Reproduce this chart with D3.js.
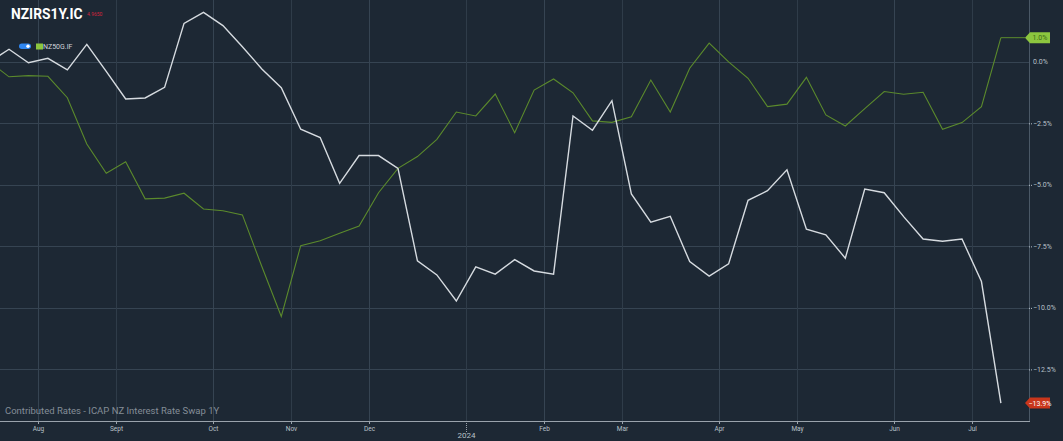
<!DOCTYPE html>
<html>
<head>
<meta charset="utf-8">
<title>NZIRS1Y.IC vs NZ50G.IF</title>
<style>
  html, body { margin: 0; padding: 0; background: #1d2834; overflow: hidden; }
  svg { display: block; font-family: Roboto, "Noto Sans", sans-serif; }
</style>
</head>
<body>
<script src="https://cdn.jsdelivr.net/npm/d3@7/dist/d3.min.js"></script>
<script>

// weekly observations (Fridays), Jul 2023 - Jul 2024
var dates = [
  "2023-07-14","2023-07-21","2023-07-28","2023-08-04","2023-08-11","2023-08-18","2023-08-25",
  "2023-09-01","2023-09-08","2023-09-15","2023-09-22","2023-09-29","2023-10-06","2023-10-13",
  "2023-10-20","2023-10-27","2023-11-03","2023-11-10","2023-11-17","2023-11-24","2023-12-01",
  "2023-12-08","2023-12-15","2023-12-22","2023-12-29","2024-01-05","2024-01-12","2024-01-19",
  "2024-01-26","2024-02-02","2024-02-09","2024-02-16","2024-02-23","2024-03-01","2024-03-08",
  "2024-03-15","2024-03-22","2024-03-29","2024-04-05","2024-04-12","2024-04-19","2024-04-26",
  "2024-05-03","2024-05-10","2024-05-17","2024-05-24","2024-05-31","2024-06-07","2024-06-14",
  "2024-06-21","2024-06-28","2024-07-05","2024-07-12"
];

// % change since start
var swapValues = [
  0, 0.51, -0.04, 0.14, -0.33, 0.71, -0.39, -1.51, -1.47, -1.04,
  1.56, 2.01, 1.47, 0.61, -0.29, -1.05, -2.74, -3.08, -4.94, -3.81,
  -3.81, -4.33, -8.09, -8.66, -9.72, -8.33, -8.63, -8.04, -8.50, -8.63,
  -2.20, -2.78, -1.58, -5.37, -6.52, -6.28, -8.12, -8.71, -8.21, -5.63,
  -5.24, -4.39, -6.80, -7.03, -7.98, -5.17, -5.32, -6.29, -7.20, -7.29,
  -7.20, -8.93, -13.87
];

var indexValues = [
  0, -0.61, -0.56, -0.59, -1.46, -3.34, -4.53, -4.06, -5.57, -5.54,
  -5.34, -5.98, -6.05, -6.22, -8.32, -10.35, -7.47, -7.27, -6.97, -6.67,
  -5.32, -4.33, -3.85, -3.15, -2.04, -2.20, -1.31, -2.88, -1.15, -0.70,
  -1.26, -2.40, -2.46, -2.23, -0.74, -2.04, -0.26, 0.76, 0.00, -0.67,
  -1.82, -1.72, -0.63, -2.16, -2.61, -1.90, -1.21, -1.32, -1.24, -2.74,
  -2.47, -1.82, 0.98
];

var monthStarts = ["2023-08-01","2023-09-01","2023-10-01","2023-11-01","2023-12-01","2024-01-01",
                   "2024-02-01","2024-03-01","2024-04-01","2024-05-01","2024-06-01","2024-07-01"];
var monthLabels = ["Aug","Sept","Oct","Nov","Dec","2024","Feb","Mar","Apr","May","Jun","Jul"];

var yTicks = [0, -2.5, -5, -7.5, -10, -12.5];

var width = 1063, height = 441,
    bg = "#1d2834",
    gridColor = "#364452",
    swapColor = "#d6dbe0",
    indexColor = "#5b8a2c",
    axisRight = 1029,
    axisBottom = 421;

var parse = d3.timeParse("%Y-%m-%d");
var dateObjs = dates.map(parse);

var x = d3.scaleLinear().domain([0, dates.length - 1]).range([-10.45, 1000.9]);
var y = d3.scaleLinear().domain([0, -12.5]).range([61.8, 369.4]);

// month ticks sit half a step before the first point of the month
var monthPos = monthStarts.map(function(s) {
  var d = parse(s);
  var i = d3.bisectLeft(dateObjs, d);
  return x(i - 0.5);
});

var svg = d3.select("body").append("svg")
  .attr("width", width)
  .attr("height", height);

svg.append("rect").attr("width", width).attr("height", height).attr("fill", bg);

// horizontal grid
svg.append("g").selectAll("line").data(yTicks).enter().append("line")
  .attr("x1", 0).attr("x2", axisRight)
  .attr("y1", function(d) { return Math.round(y(d)) + 0.5; })
  .attr("y2", function(d) { return Math.round(y(d)) + 0.5; })
  .attr("stroke", gridColor).attr("stroke-width", 1);

// vertical grid
svg.append("g").selectAll("line").data(monthPos).enter().append("line")
  .attr("x1", function(d) { return Math.round(d) + 0.5; })
  .attr("x2", function(d) { return Math.round(d) + 0.5; })
  .attr("y1", 0).attr("y2", axisBottom)
  .attr("stroke", function(d, i) { return (i % 2 == 1) ? "#2f3c49" : gridColor; })
  .attr("stroke-width", 1);

// right axis line + bottom axis line
svg.append("line").attr("x1", axisRight + 0.5).attr("x2", axisRight + 0.5)
  .attr("y1", 0).attr("y2", axisBottom).attr("stroke", "#4a5866");
svg.append("line").attr("x1", 0).attr("x2", axisRight + 1)
  .attr("y1", axisBottom + 0.5).attr("y2", axisBottom + 0.5)
  .attr("stroke", "#9aa3ac").attr("stroke-width", 1.2);

// y labels
var yAxis = svg.append("g").selectAll("g").data(yTicks).enter().append("g")
  .attr("transform", function(d) { return "translate(" + axisRight + "," + y(d) + ")"; });
yAxis.filter(function(d) { return d != 0; }).append("line")
  .attr("x1", 0).attr("x2", 3).attr("y1", 0.5).attr("y2", 0.5)
  .attr("stroke", "#b8c0c8").attr("stroke-dasharray", "1,1");
yAxis.append("text")
  .attr("x", 4).attr("dy", "0.35em")
  .attr("fill", "#b8c0c8").attr("font-size", 7)
  .text(function(d) { return d3.format(".1f")(d) + "%"; });

// x ticks and labels
var xAxis = svg.append("g").selectAll("g").data(monthPos).enter().append("g")
  .attr("transform", function(d) { return "translate(" + (Math.round(d) + 0.5) + "," + axisBottom + ")"; });
xAxis.append("line")
  .attr("y1", 0).attr("y2", function(d, i) { return monthLabels[i] == "2024" ? 11 : 3; })
  .attr("stroke", "#9aa3ac")
  .attr("stroke-dasharray", function(d, i) { return monthLabels[i] == "2024" ? "1,1" : null; });
xAxis.append("text")
  .attr("y", function(d, i) { return monthLabels[i] == "2024" ? 17 : 9.5; })
  .attr("text-anchor", "middle")
  .attr("fill", "#b8c0c8")
  .attr("font-size", function(d, i) { return monthLabels[i] == "2024" ? 8 : 6.5; })
  .text(function(d, i) { return monthLabels[i]; });

// lines
var line = d3.line()
  .x(function(d, i) { return x(i); })
  .y(function(d) { return y(d); });

svg.append("path").datum(indexValues)
  .attr("d", line).attr("fill", "none")
  .attr("stroke", indexColor).attr("stroke-width", 1.1);

svg.append("path").datum(swapValues)
  .attr("d", line).attr("fill", "none")
  .attr("stroke", swapColor).attr("stroke-width", 1.4);

// last value tags
var last = dates.length - 1;
svg.append("line")
  .attr("x1", x(last)).attr("x2", axisRight - 4)
  .attr("y1", y(indexValues[last])).attr("y2", y(indexValues[last]))
  .attr("stroke", indexColor).attr("stroke-width", 1);

function tag(v, fill, txtColor) {
  var ty = y(v);
  var g = svg.append("g").attr("transform", "translate(" + (axisRight - 4) + "," + ty + ")");
  g.append("path")
    .attr("d", "M0,0 L5,-5.5 L25,-5.5 L25,5.5 L5,5.5 Z")
    .attr("fill", fill);
  g.append("text").attr("x", 15).attr("dy", "0.35em")
    .attr("text-anchor", "middle").attr("font-size", 7)
    .attr("fill", txtColor)
    .text(d3.format(".1f")(v) + "%");
}
tag(indexValues[last], "#8cc63f", "#3d6b14");
tag(swapValues[last], "#c9361b", "#ffffff");

// header
svg.append("text").attr("x", 11).attr("y", 19)
  .attr("fill", "#ffffff").attr("font-size", 13.8).attr("font-weight", 700)
  .text("NZIRS1Y.IC");
svg.append("text").attr("x", 87).attr("y", 16)
  .attr("fill", "#d2243c").attr("font-size", 5)
  .text("4.9650");

// legend
svg.append("rect").attr("x", 19).attr("y", 43.5).attr("width", 12).attr("height", 5.5)
  .attr("rx", 2.75).attr("fill", "#2f86f0");
svg.append("circle").attr("cx", 28).attr("cy", 46.25).attr("r", 1.7).attr("fill", "#ffffff");
svg.append("rect").attr("x", 36).attr("y", 43.5).attr("width", 7).attr("height", 6)
  .attr("fill", "#8cc63f");
svg.append("text").attr("x", 43).attr("y", 49)
  .attr("fill", "#d0d5da").attr("font-size", 7)
  .text("NZ50G.IF");

// footer
svg.append("text").attr("x", 5).attr("y", 414)
  .attr("fill", "#848d97").attr("font-size", 9.5)
  .text("Contributed Rates - ICAP NZ Interest Rate Swap 1Y");

</script>
</body>
</html>
